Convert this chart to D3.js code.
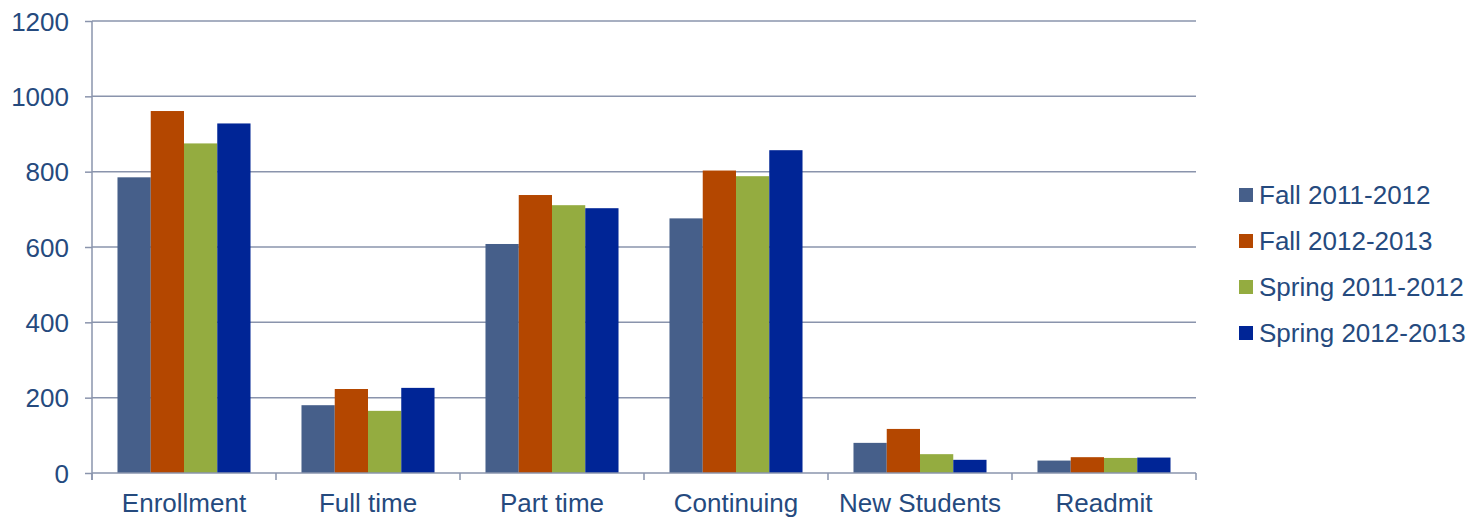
<!DOCTYPE html>
<html>
<head>
<meta charset="utf-8">
<script src="https://d3js.org/d3.v7.min.js"></script>
<style>
  body { margin: 0; background: #fff; }
  text { font-family: "Liberation Sans", Arial, sans-serif; fill: #254A7E; }
</style>
</head>
<body>
<div id="chart"></div>
<script>
// chart data
var categories = ["Enrollment", "Full time", "Part time", "Continuing", "New Students", "Readmit"];
var seriesNames = ["Fall 2011-2012", "Fall 2012-2013", "Spring 2011-2012", "Spring 2012-2013"];
var fall1112 = [785, 180, 608, 676, 80, 33];
var fall1213 = [961, 223, 738, 803, 117, 42];
var spring1112 = [875, 165, 711, 788, 50, 40];
var spring1213 = [928, 226, 703, 857, 35, 41];
var yTicks = [0, 200, 400, 600, 800, 1000, 1200];
var colors = ["#465F8A", "#B44700", "#94AC40", "#002596"];

var allSeries = [fall1112, fall1213, spring1112, spring1213];

var width = 1475, height = 517;
var margin = {top: 21, left: 92, right: 279, bottom: 44};

var svg = d3.select("#chart").append("svg")
    .attr("width", width)
    .attr("height", height);

var x0 = d3.scaleBand()
    .domain(categories)
    .range([margin.left, width - margin.right])
    .paddingInner(0.277)
    .paddingOuter(0.1385);

var x1 = d3.scaleBand()
    .domain(d3.range(seriesNames.length))
    .range([0, x0.bandwidth()]);

var y = d3.scaleLinear()
    .domain([0, 1200])
    .range([height - margin.bottom, margin.top]);

var gridColor = "#8A94AC";

// gridlines
svg.append("g").selectAll("line")
    .data(yTicks.filter(d => d > 0))
    .enter().append("line")
    .attr("x1", margin.left)
    .attr("x2", width - margin.right)
    .attr("y1", d => y(d))
    .attr("y2", d => y(d))
    .attr("stroke", gridColor)
    .attr("stroke-width", 1.5);

// bars
categories.forEach(function(cat, ci){
    svg.append("g").selectAll("rect")
        .data(allSeries.map((s, si) => ({v: s[ci], si: si})))
        .enter().append("rect")
        .attr("x", d => x0(cat) + x1(d.si))
        .attr("width", x1.bandwidth())
        .attr("y", d => y(d.v))
        .attr("height", d => y(0) - y(d.v))
        .attr("fill", d => colors[d.si]);
});

// y axis
var yAxis = d3.axisLeft(y)
    .tickValues(yTicks)
    .tickFormat(d3.format("d"))
    .tickSize(7)
    .tickPadding(16);
var gy = svg.append("g")
    .attr("transform", "translate(" + margin.left + ",0)")
    .call(yAxis);
gy.selectAll("line").attr("stroke", gridColor).attr("stroke-width", 1.5);
gy.select(".domain").attr("stroke", gridColor).attr("stroke-width", 1.5)
    .attr("d", "M0," + y(1200) + "V" + (y(0) + 7));
gy.selectAll("text")
    .style("font-size", "26px")
    .style("font-family", "Liberation Sans, Arial, sans-serif")
    .attr("fill", "#254A7E")
    .attr("dy", "0.35em");

// x axis
var xEdges = categories.map(c => x0(c) - x0.step() * x0.paddingInner() / 2);
xEdges.push(width - margin.right);
var gx = svg.append("g");
gx.append("line")
    .attr("x1", margin.left)
    .attr("x2", width - margin.right)
    .attr("y1", y(0))
    .attr("y2", y(0))
    .attr("stroke", gridColor)
    .attr("stroke-width", 1.5);
gx.selectAll("line.tick")
    .data(xEdges)
    .enter().append("line")
    .attr("class", "tick")
    .attr("x1", d => d)
    .attr("x2", d => d)
    .attr("y1", y(0))
    .attr("y2", y(0) + 7)
    .attr("stroke", gridColor)
    .attr("stroke-width", 1.5);
gx.selectAll("text")
    .data(categories)
    .enter().append("text")
    .attr("x", d => x0(d) + x0.bandwidth() / 2)
    .attr("y", 512)
    .attr("text-anchor", "middle")
    .style("font-size", "26px")
    .text(d => d);

// legend
var legend = svg.append("g")
    .attr("transform", "translate(1239,195)");
var items = legend.selectAll("g")
    .data(seriesNames)
    .enter().append("g")
    .attr("transform", (d, i) => "translate(0," + (i * 46) + ")");
items.append("rect")
    .attr("x", 0)
    .attr("y", -7)
    .attr("width", 14)
    .attr("height", 14)
    .attr("fill", (d, i) => colors[i]);
items.append("text")
    .attr("x", 20)
    .attr("y", 0)
    .attr("dy", "0.35em")
    .style("font-size", "26px")
    .text(d => d);
</script>
</body>
</html>
